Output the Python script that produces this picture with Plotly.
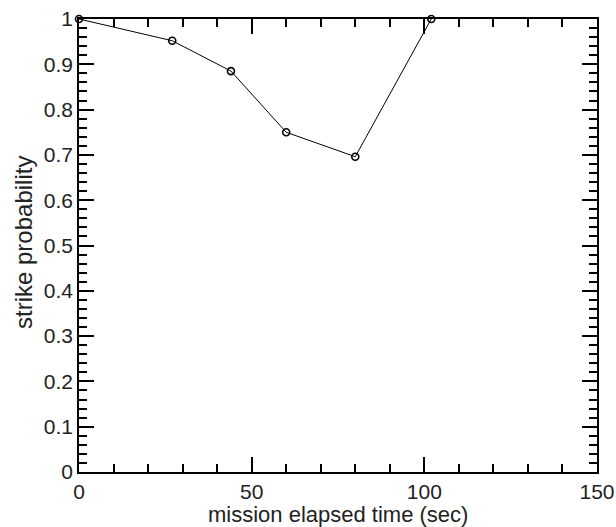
import plotly.graph_objects as go

time_sec = [0, 27, 44, 60, 80, 102]
strike_prob = [1.0, 0.952, 0.885, 0.75, 0.696, 1.0]

FONT = "Liberation Sans, Arial, sans-serif"

fig = go.Figure()
fig.add_trace(go.Scatter(
    x=time_sec, y=strike_prob, mode="lines+markers",
    line=dict(color="black", width=1),
    marker=dict(symbol="circle-open", size=7, color="black", line=dict(width=1.6)),
    cliponaxis=False, showlegend=False,
))

axis_common = dict(
    showline=True, linecolor="black", linewidth=1.5, mirror="ticks",
    ticks="inside", ticklen=15, tickwidth=1.5, tickcolor="black",
    showgrid=False, zeroline=False, automargin=False,
    ticklabeloverflow="allow",
    tickfont=dict(family=FONT, size=21, color="#222"),
)
fig.update_xaxes(range=[0, 150], dtick=50, tick0=0,
                 minor=dict(dtick=10, ticks="inside", ticklen=8, tickwidth=1.5, tickcolor="black"),
                 **axis_common)
fig.update_yaxes(range=[0, 1], dtick=0.1, tick0=0,
                 minor=dict(dtick=0.02, ticks="inside", ticklen=8, tickwidth=1.5, tickcolor="black"),
                 ticklabelstandoff=0,
                 **axis_common)

# plot area targets page pixels x 79..597, y 19..472
fig.update_layout(
    width=616, height=527,
    margin=dict(l=79, r=19, t=19, b=55),
    plot_bgcolor="white", paper_bgcolor="white",
)
plot_h = 472 - 19
plot_w = 597 - 79
fig.layout.annotations = [
    dict(text="mission elapsed time (sec)", x=(338 - 79) / plot_w, y=-(514 - 472) / plot_h,
         xref="paper", yref="paper", xanchor="center", yanchor="middle",
         showarrow=False, font=dict(family=FONT, size=22, color="#222")),
    dict(text="strike probability", x=-(79 - 23) / plot_w, y=(472 - 243) / plot_h,
         xref="paper", yref="paper", xanchor="center", yanchor="middle", textangle=-90,
         showarrow=False, font=dict(family=FONT, size=24, color="#222")),
]
fig.write_html(
    "out.html",
    config={"displayModeBar": False},
    post_script="document.body.style.margin='0';document.body.style.overflow='hidden';",
)
